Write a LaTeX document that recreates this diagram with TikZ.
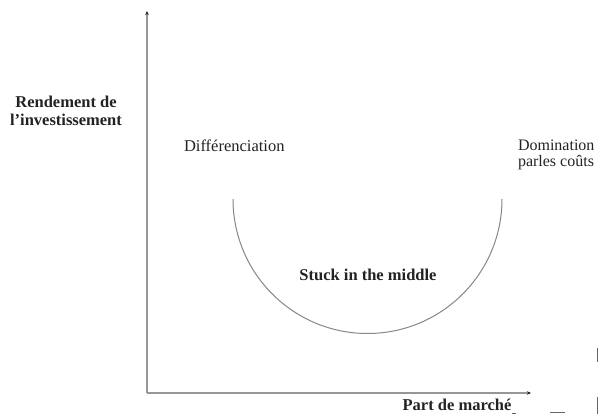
\documentclass[tikz,border=0pt]{standalone}
\usepackage{fontspec}
\setmainfont{Liberation Serif}
\usetikzlibrary{arrows.meta}
\definecolor{axisgray}{RGB}{150,150,150}
\definecolor{txt}{RGB}{35,35,35}
\begin{document}
\begin{tikzpicture}[x=1pt,y=-1pt,
  axisline/.style={draw=axisgray,line width=1.1pt,-{Stealth[length=4pt,width=3.5pt,color=txt]}},
  curveline/.style={draw=axisgray!90!black,line width=1pt},
  lbl/.style={inner sep=0pt,outer sep=0pt,text=txt,font=\fontsize{16.5}{18}\selectfont},
  blbl/.style={lbl,font=\fontsize{16.5}{18}\selectfont\bfseries},
  straymark/.style={draw=txt!70,line width=0.9pt}]
\useasboundingbox (0,0) rectangle (598,414);
\fill[white] (0,0) rectangle (598,414);
% axes
\coordinate (O) at (147,393);
\coordinate (ytop) at (147,11);
\coordinate (xend) at (531,393);
\draw[axisline] (O) -- (ytop);
\draw[axisline] (O) -- (xend);
% curve
\coordinate (cl) at (233,199);
\coordinate (cr) at (502,199);
\draw[curveline] (cl) arc[start angle=180,end angle=360,x radius=134.5pt,y radius=134.5pt];
% labels
\node[blbl,anchor=base] (rend1) at (66,108) {Rendement de};
\node[blbl,anchor=base] (rend2) at (66,126) {l’investissement};
\node[lbl,anchor=base west] (diff) at (184,152) {Différenciation};
\node[lbl,anchor=base west,font=\fontsize{16}{17}\selectfont] (dom1) at (518,151) {Domination};
\node[lbl,anchor=base west,font=\fontsize{16}{17}\selectfont] (dom2) at (518,167) {parles coûts};
\node[blbl,anchor=base] (stuck) at (368,281) {Stuck in the middle};
\node[blbl,anchor=base] (part) at (457,411) {Part de marché};
% small stray marks
\coordinate (m1a) at (512,413.5); \coordinate (m1b) at (516,413.5);
\coordinate (m2a) at (550,412.5); \coordinate (m2b) at (565,412.5);
\coordinate (m3a) at (597.3,348); \coordinate (m3b) at (597.3,362);
\coordinate (m4a) at (597.3,397); \coordinate (m4b) at (597.3,414);
\draw[straymark] (m1a) -- (m1b);
\draw[straymark] (m2a) -- (m2b);
\draw[straymark] (m3a) -- (m3b);
\draw[straymark] (m4a) -- (m4b);
\end{tikzpicture}
\end{document}
